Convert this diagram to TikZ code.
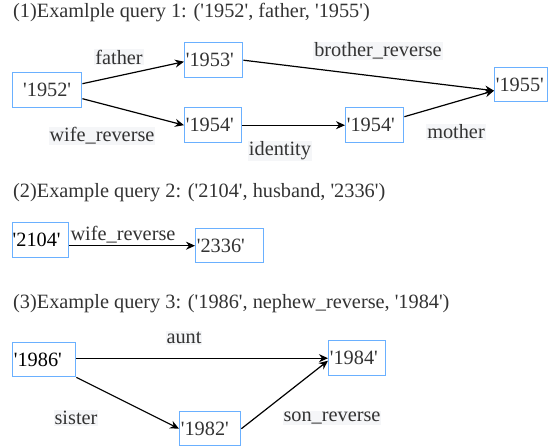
\documentclass[tikz,border=0pt]{standalone}
\usepackage{fontspec}
\setmainfont{Liberation Serif}[Ligatures=TeXOff]
\usetikzlibrary{arrows.meta}
\definecolor{txt}{HTML}{333333}
\definecolor{boxblue}{HTML}{6AB0FF}
\definecolor{lblbg}{HTML}{F5F6F8}
\begin{document}
\begin{tikzpicture}[x=1pt,y=-1pt,
  every node/.style={font=\fontsize{20.3}{23}\selectfont, text=txt},
  ent/.style={draw=boxblue, line width=1.4pt, inner xsep=1.2pt, inner ysep=0pt, anchor=north west, align=left},
  lbl/.style={fill=lblbg, inner sep=1pt},
  title/.style={anchor=base west, inner sep=0pt},
  rel/.style={draw=black, line width=1.2pt, -{Stealth[length=9pt,width=8pt]}}]
\useasboundingbox (0,0) rectangle (559,446);
% titles
\node[title] (t1) at (13,18) {(1)Examlple query 1: ('1952', father, '1955')};
\node[title] (t2) at (13,198) {(2)Example query 2: ('2104', husband, '2336')};
\node[title] (t3) at (13,308) {(3)Example query 3: ('1986', nephew\_reverse, '1984')};
% entities, query 1
\node[ent, align=center, text width=66.6pt, minimum height=35pt] (A) at (12,72) {'1952'};
\node[ent, text width=55.6pt, minimum height=35pt] (B) at (184,42) {'1953'};
\node[ent, text width=54.6pt, minimum height=35pt] (C) at (184,107) {'1954'};
\node[ent, text width=55.6pt, minimum height=35pt] (D) at (345,107) {'1954'};
\node[ent, text width=50.6pt, minimum height=34pt] (E) at (494,67) {'1955'};
% query 2
\node[ent, inner xsep=0pt, text width=56pt, minimum height=35pt] (F) at (12,222) {\textcolor{black}{'2104'}};
\node[ent, text width=65.6pt, minimum height=34pt] (G) at (195,228) {'2336'};
% query 3
\node[ent, text width=60.6pt, minimum height=34pt] (H) at (12,342) {\textcolor{black}{'1986'}};
\node[ent, text width=54.6pt, minimum height=35pt] (I) at (328,340) {'1984'};
\node[ent, text width=58.6pt, minimum height=34pt] (J) at (179,411) {'1982'};
% arrows
\draw[rel] ([yshift=6.5pt]A.east) -- ([yshift=-1.5pt]B.west);
\draw[rel] ([yshift=-8.5pt]A.east) -- (C.west);
\draw[rel] (B.east) -- ([yshift=-6pt]E.west);
\draw[rel] (C.east) -- (D.west);
\draw[rel] ([yshift=8.5pt]D.east) -- ([yshift=-6pt]E.west);
\draw[rel] (F.east |- G.west) -- (G.west);
\draw[rel] (H.east |- I.west) -- (I.west);
\draw[rel] (H.south east) -- (J.west);
\draw[rel] (J.east) -- ([yshift=-2.5pt]I.west);
% labels
\node[lbl] (l1) at (119,57) {father};
\node[lbl] (l2) at (102,136) {wife\_reverse};
\node[lbl] (l3) at (378,51) {brother\_reverse};
\node[lbl] (l4) at (280,151) {identity};
\node[lbl] (l5) at (456,132) {mother};
\node[inner sep=0pt] (l6) at (123,235) {wife\_reverse};
\node[lbl] (l7) at (184,338) {aunt};
\node[lbl] (l8) at (76,418) {sister};
\node[lbl] (l9) at (332,418) {son\_reverse};
\end{tikzpicture}
\end{document}
